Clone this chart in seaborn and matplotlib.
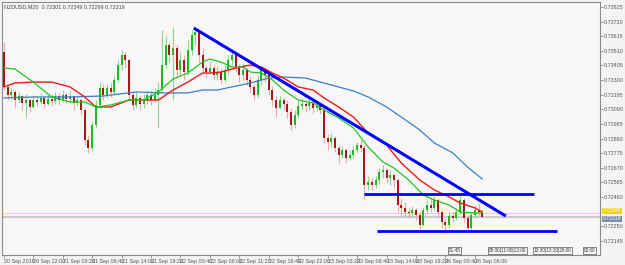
import matplotlib
matplotlib.use("Agg")
import matplotlib.pyplot as plt
import seaborn as sns
import numpy as np

# ---------------- data ----------------
title = "NZDUSD,M20  0.72301 0.72349 0.72299 0.72319"
first_open = 0.73502
closes = [
    0.73251, 0.73193, 0.73215, 0.73157, 0.73186, 0.73136, 0.73157, 0.73107, 0.73157, 0.73143,
    0.73172, 0.73128, 0.73164, 0.73150, 0.73186, 0.73157, 0.73193, 0.73164, 0.73186, 0.73136,
    0.73157, 0.73085, 0.72870, 0.72812, 0.72978, 0.73121, 0.73243, 0.73193, 0.73243, 0.73215,
    0.73301, 0.73408, 0.73480, 0.73444, 0.73193, 0.73121, 0.73172, 0.73128, 0.73157, 0.73193,
    0.73157, 0.73193, 0.73229, 0.73408, 0.73552, 0.73480, 0.73531, 0.73373, 0.73444, 0.73358,
    0.73516, 0.73624, 0.73646, 0.73480, 0.73387, 0.73358, 0.73387, 0.73337, 0.73358, 0.73301,
    0.73373, 0.73444, 0.73480, 0.73387, 0.73337, 0.73373, 0.73301, 0.73251, 0.73193, 0.73301,
    0.73373, 0.73337, 0.73229, 0.73157, 0.73100, 0.73157, 0.73128, 0.73071, 0.72978, 0.73049,
    0.73114, 0.73128, 0.73114, 0.73136, 0.73100, 0.73121, 0.73085, 0.72884, 0.72856, 0.72884,
    0.72812, 0.72762, 0.72798, 0.72741, 0.72762, 0.72798, 0.72834, 0.72812, 0.72547, 0.72569,
    0.72547, 0.72583, 0.72640, 0.72655, 0.72597, 0.72619, 0.72583, 0.72403, 0.72382, 0.72353,
    0.72346, 0.72367, 0.72332, 0.72260, 0.72367, 0.72403, 0.72382, 0.72439, 0.72353, 0.72281,
    0.72260, 0.72324, 0.72310, 0.72353, 0.72439, 0.72310, 0.72238, 0.72332, 0.72367, 0.72353,
    0.72319,
]
highs = [
    0.73574, 0.73265, 0.73243, 0.73229, 0.73215, 0.73193, 0.73200, 0.73172, 0.73193, 0.73186,
    0.73208, 0.73186, 0.73193, 0.73200, 0.73215, 0.73208, 0.73229, 0.73208, 0.73222, 0.73186,
    0.73193, 0.73157, 0.73100, 0.72906, 0.72999, 0.73157, 0.73286, 0.73272, 0.73272, 0.73286,
    0.73337, 0.73444, 0.73516, 0.73502, 0.73459, 0.73215, 0.73215, 0.73193, 0.73200, 0.73229,
    0.73229, 0.73243, 0.73286, 0.73660, 0.73624, 0.73574, 0.73682, 0.73552, 0.73502, 0.73480,
    0.73588, 0.73660, 0.73674, 0.73660, 0.73531, 0.73408, 0.73430, 0.73408, 0.73401, 0.73387,
    0.73408, 0.73480, 0.73502, 0.73480, 0.73415, 0.73415, 0.73387, 0.73330, 0.73272, 0.73337,
    0.73401, 0.73387, 0.73358, 0.73258, 0.73186, 0.73186, 0.73179, 0.73157, 0.73100, 0.73085,
    0.73157, 0.73172, 0.73157, 0.73172, 0.73157, 0.73157, 0.73143, 0.73100, 0.72913, 0.72920,
    0.72899, 0.72834, 0.72827, 0.72812, 0.72798, 0.72827, 0.72856, 0.72870, 0.72834, 0.72612,
    0.72597, 0.72612, 0.72669, 0.72690, 0.72669, 0.72655, 0.72633, 0.72597, 0.72454, 0.72425,
    0.72382, 0.72396, 0.72382, 0.72353, 0.72389, 0.72439, 0.72454, 0.72468, 0.72454, 0.72367,
    0.72310, 0.72353, 0.72353, 0.72382, 0.72475, 0.72454, 0.72332, 0.72353, 0.72403, 0.72418,
    0.72367,
]
lows = [
    0.73229, 0.73157, 0.73157, 0.73100, 0.73136, 0.73085, 0.73035, 0.73071, 0.73100, 0.73114,
    0.73128, 0.73100, 0.73121, 0.73114, 0.73128, 0.73121, 0.73143, 0.73128, 0.73136, 0.73085,
    0.73114, 0.73049, 0.72834, 0.72777, 0.72798, 0.72956, 0.73100, 0.73157, 0.73172, 0.73179,
    0.73200, 0.73286, 0.73373, 0.73387, 0.73157, 0.73085, 0.73100, 0.73085, 0.73100, 0.73128,
    0.73121, 0.73143, 0.72963, 0.73215, 0.73387, 0.73430, 0.73157, 0.73315, 0.73337, 0.73301,
    0.73337, 0.73480, 0.73552, 0.73430, 0.73358, 0.73315, 0.73344, 0.73301, 0.73301, 0.73272,
    0.73286, 0.73337, 0.73408, 0.73358, 0.73286, 0.73301, 0.73265, 0.73215, 0.73157, 0.73172,
    0.73272, 0.73286, 0.73193, 0.73114, 0.73035, 0.73100, 0.73085, 0.73028, 0.72942, 0.72956,
    0.73028, 0.73085, 0.73071, 0.73085, 0.73064, 0.73078, 0.73057, 0.72848, 0.72798, 0.72820,
    0.72784, 0.72705, 0.72741, 0.72705, 0.72726, 0.72741, 0.72777, 0.72784, 0.72439, 0.72511,
    0.72511, 0.72526, 0.72554, 0.72597, 0.72569, 0.72547, 0.72526, 0.72353, 0.72317, 0.72317,
    0.72310, 0.72317, 0.72296, 0.72231, 0.72253, 0.72346, 0.72353, 0.72367, 0.72310, 0.72238,
    0.72202, 0.72238, 0.72281, 0.72296, 0.72339, 0.72281, 0.72209, 0.72224, 0.72310, 0.72324,
    0.72310,
]

# moving averages (read at sample bars)
ma_fast_bars = [0, 3, 8, 13, 18, 22, 25, 29, 34, 38, 42, 46, 50, 54, 56, 59, 62, 65, 67, 70,
                73, 76, 80, 84, 87, 91, 95, 99, 103, 106, 110, 114, 117, 121, 124, 128, 130]
ma_fast_vals = [0.73387, 0.73380, 0.73286, 0.73179, 0.73143, 0.73143, 0.73107, 0.73121, 0.73157,
                0.73157, 0.73215, 0.73308, 0.73351, 0.73430, 0.73452, 0.73430, 0.73394, 0.73394,
                0.73358, 0.73351, 0.73301, 0.73229, 0.73157, 0.73136, 0.73085, 0.73028, 0.72956,
                0.72820, 0.72712, 0.72669, 0.72583, 0.72475, 0.72439, 0.72403, 0.72353, 0.72346,
                0.72346]
ma_mid_bars = [0, 3, 8, 13, 18, 22, 25, 29, 34, 38, 42, 46, 50, 54, 56, 59, 64, 67, 70, 73,
               76, 80, 84, 87, 91, 95, 99, 104, 108, 113, 117, 121, 124, 128, 130]
ma_mid_vals = [0.73251, 0.73279, 0.73286, 0.73286, 0.73251, 0.73179, 0.73107, 0.73107, 0.73157,
               0.73157, 0.73157, 0.73229, 0.73286, 0.73351, 0.73351, 0.73358, 0.73394, 0.73408,
               0.73394, 0.73351, 0.73315, 0.73251, 0.73229, 0.73172, 0.73107, 0.73035, 0.72920,
               0.72834, 0.72705, 0.72583, 0.72511, 0.72461, 0.72418, 0.72382, 0.72353]
ma_slow_bars = [0, 8, 18, 27, 36, 43, 50, 54, 58, 67, 72, 76, 82, 87, 95, 99, 104, 108, 113,
                117, 122, 126, 130]
ma_slow_vals = [0.73172, 0.73179, 0.73179, 0.73186, 0.73215, 0.73208, 0.73208, 0.73229, 0.73229,
                0.73279, 0.73315, 0.73322, 0.73315, 0.73279, 0.73222, 0.73179, 0.73107, 0.73035,
                0.72942, 0.72848, 0.72777, 0.72676, 0.72590]

# drawn objects
trend_bars = [51.6, 136.4]
trend_prices = [0.73674, 0.72324]
resist_bars = [97.8, 144.0]
resist_price = 0.72482
support_bars = [101.4, 150.3]
support_price = 0.72217
bid_price = 0.72319
ask_price = 0.72345

time_labels = ["20 Sep 2016", "20 Sep 22:00", "21 Sep 03:20", "21 Sep 08:40", "21 Sep 14:00",
               "21 Sep 19:20", "22 Sep 00:40", "22 Sep 06:00", "22 Sep 11:20", "22 Sep 16:40",
               "22 Sep 22:00", "23 Sep 03:20", "23 Sep 08:40", "23 Sep 14:00", "23 Sep 19:20",
               "26 Sep 00:40", "26 Sep 06:00"]
time_label_bars = [0, 8, 16, 24, 32, 40, 48, 56, 64, 72, 80, 88, 96, 104, 112, 120, 128]
price_ticks = [0.73825, 0.73720, 0.73615, 0.73510, 0.73405, 0.73300, 0.73195, 0.73090,
               0.72985, 0.72880, 0.72775, 0.72670, 0.72565, 0.72460, 0.72250, 0.72145]
event_bars = [120.9, 131.8, 144.0, 157.6]
event_texts = ["01:45", "05:00|11:00|12:00", "13:30|13:20|20:00", "02:00"]

# ---------------- figure ----------------
sns.set_theme(style="white")
plt.rcParams["font.family"] = ["Liberation Sans Narrow", "Liberation Sans", "DejaVu Sans"]

fig = plt.figure(figsize=(6.25, 2.65), dpi=100, facecolor="#f4f4f4")
ax = fig.add_axes([2 / 625, 1 - 255 / 265, 598 / 625, 253 / 265])
ax.set_facecolor("#f7f7f7")

n = len(closes)
xs = np.arange(n)
opens = [first_open] + closes[:-1]
bull = [c >= o for o, c in zip(opens, closes)]
wick_cols = ["#8fd48f" if b else "#e6aaaa" for b in bull]
body_cols = ["#22b822" if b else "#a81818" for b in bull]

ax.vlines(xs, lows, highs, colors=wick_cols, lw=0.8, zorder=2)
bottoms = [min(o, c) for o, c in zip(opens, closes)]
heights = [max(abs(c - o), 0.000012) for o, c in zip(opens, closes)]
ax.bar(xs, heights, bottom=bottoms, width=0.55, color=body_cols, linewidth=0, zorder=3)

# bid / ask lines
ax.axhline(bid_price, color="#c8ccd2", lw=1.6, zorder=1)
ax.axhline(ask_price, color="#f2dc55", lw=0.7, zorder=1)

# moving averages
sns.lineplot(x=ma_slow_bars, y=ma_slow_vals, ax=ax, color="#3b7fc4", lw=0.9, estimator=None, sort=False, zorder=4)
sns.lineplot(x=ma_mid_bars, y=ma_mid_vals, ax=ax, color="#f01818", lw=1.0, estimator=None, sort=False, zorder=4)
sns.lineplot(x=ma_fast_bars, y=ma_fast_vals, ax=ax, color="#1ec81e", lw=0.9, estimator=None, sort=False, zorder=4)

# drawn lines
ax.plot(trend_bars, trend_prices, color="#0000ff", lw=2.2, solid_capstyle="butt", zorder=5)
ax.plot(resist_bars, [resist_price] * 2, color="#0000ff", lw=2.0, solid_capstyle="butt", zorder=5)
ax.plot(support_bars, [support_price] * 2, color="#0000ff", lw=2.0, solid_capstyle="butt", zorder=5)

# axes limits / ticks
ax.set_xlim(-0.5, 162.0)
ax.set_ylim(0.72044, 0.73861)
ax.yaxis.tick_right()
ax.set_yticks(price_ticks)
ax.set_yticklabels([f"{p:.5f}" for p in price_ticks], fontsize=3.9, color="#555555")
ax.set_xticks(time_label_bars)
ax.set_xticklabels(time_labels, fontsize=3.9, color="#555555", ha="left")
ax.tick_params(axis="both", length=2.0, width=0.5, color="#777777", pad=1.0)
ax.tick_params(axis="y", right=True, left=False)
ax.tick_params(axis="x", bottom=True)
for s in ax.spines.values():
    s.set_color("#8a8a8a")
    s.set_linewidth(0.8)

# title
ax.text(0.003, 0.99, title, transform=ax.transAxes, fontsize=3.9, color="#444444",
        ha="left", va="top")

# price labels on axis
ax.annotate(f"{ask_price:.5f}", xy=(1.0, ask_price), xycoords=("axes fraction", "data"),
            xytext=(1.8, 1.6), textcoords="offset points", fontsize=3.7, color="white",
            va="center", ha="left",
            bbox=dict(boxstyle="square,pad=0.12", fc="#f0d020", ec="none"), annotation_clip=False)
ax.annotate(f"{bid_price:.5f}", xy=(1.0, bid_price), xycoords=("axes fraction", "data"),
            xytext=(1.8, -1.6), textcoords="offset points", fontsize=3.7, color="white",
            va="center", ha="left",
            bbox=dict(boxstyle="square,pad=0.12", fc="#7a8ea6", ec="none"), annotation_clip=False)

# event boxes at the bottom
for xb, t in zip(event_bars, event_texts):
    ax.text(xb, 0.72077, t, fontsize=3.4, color="#333333", ha="left", va="center",
            bbox=dict(boxstyle="square,pad=0.15", fc="#f7f7f7", ec="#555555", lw=0.5))

fig.savefig("out.png", dpi=100, facecolor=fig.get_facecolor())
